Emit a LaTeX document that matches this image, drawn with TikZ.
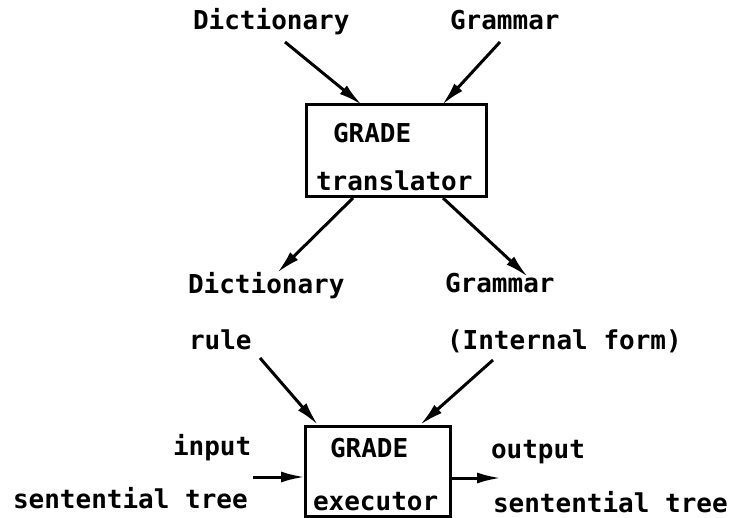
\documentclass[tikz,border=0pt]{standalone}
\usepackage{fontspec}
\setmonofont{DejaVu Sans Mono}
\usetikzlibrary{arrows.meta}
\begin{document}
\begin{tikzpicture}[x=1pt,y=-1pt,
  lbl/.style={anchor=base west,inner sep=0pt,outer sep=0pt,font=\fontsize{26}{26}\selectfont\ttfamily\bfseries},
  boxst/.style={draw,line width=3pt},
  arr/.style={line width=3pt,-{Latex[length=24pt,width=11pt]}}]
\useasboundingbox (0,0) rectangle (731,518);
% boxes
\draw[boxst] (306,105) rectangle (486,197);
\node[inner sep=0pt] (tbox) at (396,151) {};
\draw[boxst] (305,516) -- (305,427) -- (450,427) -- (450,516) -- cycle;
% labels
\node[lbl] (dict1) at (193,30) {Dictionary};
\node[lbl] (gram1) at (450,30) {Grammar};
\node[lbl] (grade1) at (333,143) {GRADE};
\node[lbl] (transl) at (316,191) {translator};
\node[lbl] (dict2) at (188,294) {Dictionary};
\node[lbl] (gram2) at (445,293) {Grammar};
\node[lbl] (rule) at (189,350) {rule};
\node[lbl] (intf) at (447,350) {(Internal form)};
\node[lbl] (input) at (173,455) {input};
\node[lbl] (grade2) at (330,457) {GRADE};
\node[lbl] (outp) at (491,458) {output};
\node[lbl] (sent1) at (13,508) {sentential tree};
\node[lbl] (exec) at (313,510) {executor};
\node[lbl] (sent2) at (493,512) {sentential tree};
% arrow end points
\coordinate (a1) at (285,42);  \coordinate (b1) at (362,105);
\coordinate (a2) at (500,42);  \coordinate (b2) at (442,105);
\coordinate (a3) at (353,198); \coordinate (b3) at (277,273);
\coordinate (a4) at (443,198); \coordinate (b4) at (528,277);
\coordinate (a5) at (260,358); \coordinate (b5) at (318,425);
\coordinate (a6) at (493,360); \coordinate (b6) at (420,425);
\coordinate (a7) at (253,477); \coordinate (b7) at (305,477);
\coordinate (a8) at (450,478); \coordinate (b8) at (501,478);
\draw[arr] (a1) -- (b1);
\draw[arr] (a2) -- (b2);
\draw[arr] (a3) -- (b3);
\draw[arr] (a4) -- (b4);
\draw[arr] (a5) -- (b5);
\draw[arr] (a6) -- (b6);
\draw[arr] (a7) -- (b7);
\draw[arr] (a8) -- (b8);
\end{tikzpicture}
\end{document}
